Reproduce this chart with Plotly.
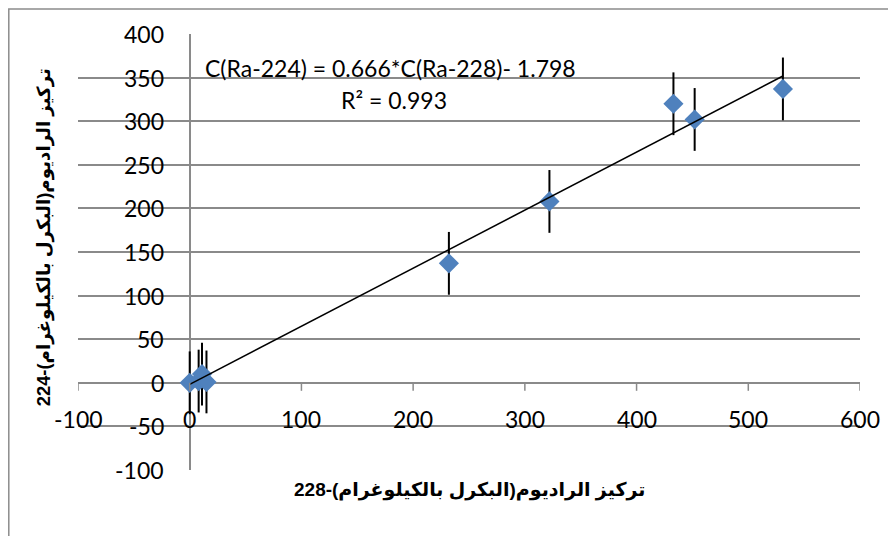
import plotly.graph_objects as go

# ---- data ----
ra228 = [0, 8, 11, 15, 232, 322, 433, 452, 531]
ra224 = [0, 2, 10, 1, 137, 208, 320, 302, 337]
ra224_err = [36, 36, 36, 36, 36, 36, 36, 36, 36]

slope = 0.666
intercept = -1.798
r_squared = 0.993

x_ticks = [-100, 0, 100, 200, 300, 400, 500, 600]
y_ticks = [-100, -50, 0, 50, 100, 150, 200, 250, 300, 350, 400]

x_title = "تركيز الراديوم(البكرل بالكيلوغرام)-228"
y_title = "تركيز الراديوم(البكرل بالكيلوغرام)-224"
eq_text = "C(Ra-224) = 0.666*C(Ra-228)- 1.798"
r2_text = "R² = 0.993"

TICK_FONT = dict(family="Lato, Open Sans, sans-serif", size=23, color="#000000")
TITLE_FONT = dict(family="Liberation Sans, Arial, DejaVu Sans, sans-serif", size=19, color="#000000")
YTITLE_FONT = dict(family="Liberation Sans, Arial, DejaVu Sans, sans-serif", size=18.3, color="#000000")
GRID = "#8a8a8a"

fig = go.Figure()

fig.add_trace(go.Scatter(
    x=ra228, y=ra224, mode="markers",
    marker=dict(symbol="diamond", size=15.5, color="#4F81BD", line=dict(width=0)),
    error_y=dict(type="data", array=ra224_err, visible=True, color="#000000",
                 thickness=2, width=0),
    hoverinfo="skip",
))

tx = [min(ra228), max(ra228)]
ty = [slope * v + intercept for v in tx]
fig.add_trace(go.Scatter(x=tx, y=ty, mode="lines",
                         line=dict(color="#000000", width=1.5), hoverinfo="skip"))

annotations = []
for v in y_ticks:
    annotations.append(dict(x=0, y=v, xref="x", yref="y", text=str(v), showarrow=False,
                            xanchor="right", yanchor="middle", xshift=-24, font=TICK_FONT))
for v in x_ticks:
    annotations.append(dict(x=v, y=0, xref="x", yref="y", text=str(v), showarrow=False,
                            xanchor="center", yanchor="middle", yshift=-36, font=TICK_FONT))

annotations.append(dict(x=0.399, y=0.922, xref="paper", yref="paper", text=eq_text,
                        showarrow=False, xanchor="center", yanchor="middle", font=TICK_FONT))
annotations.append(dict(x=0.404, y=0.849, xref="paper", yref="paper", text=r2_text,
                        showarrow=False, xanchor="center", yanchor="middle", font=TICK_FONT))
annotations.append(dict(x=0.5, y=-0.046, xref="paper", yref="paper", text="<b>%s</b>" % x_title,
                        showarrow=False, xanchor="center", yanchor="middle", font=TITLE_FONT))
annotations.append(dict(x=-0.0435, y=0.534, xref="paper", yref="paper", text="<b>%s</b>" % y_title,
                        showarrow=False, xanchor="center", yanchor="middle", textangle=-90,
                        font=YTITLE_FONT))

shapes = []
for v in x_ticks:
    shapes.append(dict(type="line", xref="x", yref="y", x0=v, x1=v,
                       ysizemode="pixel", yanchor=0, y0=0, y1=-8,
                       line=dict(color=GRID, width=1.5)))
shapes.append(dict(type="rect", xref="paper", yref="paper",
                   x0=-0.0885, x1=1.2, y0=-0.3, y1=1.0575,
                   line=dict(color="#8c8c8c", width=1.5), layer="below"))

fig.update_layout(
    width=888, height=528, autosize=False,
    margin=dict(l=70, r=36, t=26, b=66),
    paper_bgcolor="#ffffff", plot_bgcolor="#ffffff",
    showlegend=False,
    xaxis=dict(range=[-100, 600], showgrid=False, zeroline=True, zerolinecolor=GRID,
               zerolinewidth=1.5, showticklabels=False, ticks="", showline=False, fixedrange=True),
    yaxis=dict(range=[-100, 400], dtick=50, tick0=0, showgrid=True, gridcolor=GRID, gridwidth=1.5,
               zeroline=True, zerolinecolor=GRID, zerolinewidth=1.5,
               showticklabels=False, ticks="", showline=False, fixedrange=True),
    annotations=annotations,
    shapes=shapes,
)

fig.write_html("out.html")
